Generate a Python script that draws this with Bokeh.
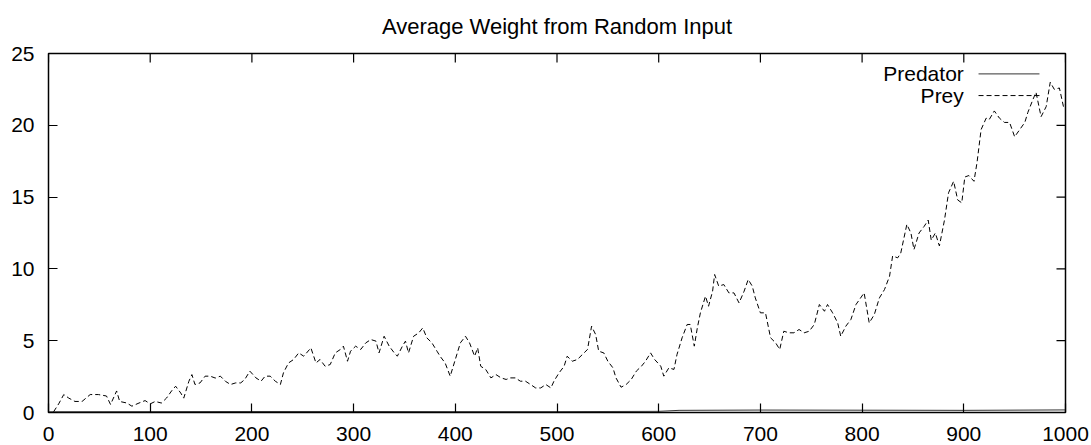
import math
from bokeh.plotting import figure
from bokeh.models import Range1d, FixedTicker, Label
from bokeh.embed import file_html
from bokeh.resources import INLINE

title_text = "Average Weight from Random Input"
series_names = ["Predator", "Prey"]
x_ticks = [0, 100, 200, 300, 400, 500, 600, 700, 800, 900, 1000]
y_ticks = [0, 5, 10, 15, 20, 25]

prey_x = [5, 10, 15, 20, 26, 33, 41, 49, 57, 61, 67, 70, 77, 82, 89, 95, 100, 105, 111, 116,
          121, 125, 130, 133, 138, 141, 144, 149, 154, 159, 164, 169, 174, 179, 184, 189, 193, 198,
          204, 209, 213, 218, 223, 228, 231, 236, 241, 246, 251, 258, 263, 267, 272, 277, 282, 287,
          290, 294, 297, 302, 307, 312, 317, 322, 325, 330, 335, 340, 343, 348, 351, 354, 359, 364,
          368, 372, 377, 382, 385, 390, 395, 400,
          405, 410, 414, 419, 422, 425, 430, 435, 440, 445, 450, 454, 459, 464, 469, 474, 479, 484,
          489, 494, 497, 502, 507, 510, 515, 520, 525, 530, 534, 538, 541, 546, 550, 555, 558, 563,
          568, 573, 578, 583, 587, 592, 596,
          602, 605, 610, 615, 618, 623, 628, 631, 635, 638, 641, 646, 649, 653, 655, 659, 664, 669,
          674, 679, 684, 688, 692, 695, 700, 705, 710, 715, 719, 723, 728, 733, 738, 743, 748, 753,
          758, 763, 766, 771, 776, 779, 784, 789, 794,
          802, 807, 812, 817, 822, 827, 830, 835, 838, 844, 848, 851, 856, 861, 865, 868, 872, 876,
          881, 885, 890, 894, 898, 901, 905, 910, 913, 917, 922, 925, 930, 935, 940, 945, 950, 955,
          960, 963, 968, 971, 976, 981, 985, 989, 994, 998, 1000]
prey_y = [0.05, 0.6, 1.25, 1.0, 0.77, 0.77, 1.25, 1.25, 1.15, 0.56, 1.5, 0.77, 0.66, 0.44, 0.66, 0.83, 0.6, 0.77, 0.66, 1.0,
          1.5, 1.83, 1.36, 1.0, 2.17, 2.64, 1.95, 2.06, 2.53, 2.53, 2.4, 2.53, 2.17, 1.95, 2.06, 2.06, 2.3, 2.88,
          2.41, 2.18, 2.53, 2.53, 2.18, 1.95, 2.76, 3.45, 3.69, 4.15, 3.92, 4.5, 3.45, 3.69, 3.22, 3.34, 4.15, 4.39,
          4.62, 3.57, 4.27, 4.62, 4.39, 4.85, 5.08, 4.97, 4.15, 5.31, 4.62, 4.15, 3.92, 4.62, 4.97, 4.15, 5.31, 5.54,
          5.89, 5.2, 4.85, 4.27, 3.92, 3.45, 2.53, 3.69,
          4.85, 5.31, 4.85, 3.92, 4.5, 3.22, 2.99, 2.41, 2.64, 2.41, 2.3, 2.41, 2.41, 2.18, 2.18, 1.95, 1.71, 1.71,
          1.95, 1.71, 2.18, 2.76, 3.22, 3.92, 3.57, 3.69, 4.04, 4.39, 6.01, 5.43, 4.27, 4.15, 3.57, 3.11, 2.41, 1.76,
          1.95, 2.3, 2.88, 3.22, 3.57, 4.15, 3.69,
          3.23, 2.53, 3.11, 3.0, 4.04, 5.2, 6.13, 6.13, 4.62, 5.9, 6.94, 8.1, 7.4, 8.45, 9.61, 8.8, 8.91, 8.33,
          8.33, 7.63, 8.45, 9.26, 8.8, 7.98, 6.94, 6.94, 5.2, 4.85, 4.39, 5.66, 5.55, 5.55, 5.78, 5.55, 5.66, 6.13,
          7.52, 7.05, 7.52, 6.94, 6.24, 5.31, 6.01, 6.48, 7.52,
          8.33, 6.24, 6.82, 7.98, 8.56, 9.49, 10.9, 10.77, 11.1, 13.1, 12.5, 11.35, 12.5, 12.96, 13.4, 12.0, 12.5, 11.6,
          13.4, 15.3, 16.1, 14.8, 14.6, 16.4, 16.5, 16.1, 17.4, 19.7, 20.5, 20.4, 21.0, 20.5, 20.2, 20.2, 19.2, 19.7,
          20.2, 20.9, 21.8, 22.3, 20.6, 21.3, 23.0, 22.5, 22.6, 21.3, 21.5]

predator_x = [0, 100, 200, 300, 400, 500, 600, 620, 700, 800, 900, 1000]
predator_y = [0.05, 0.06, 0.07, 0.07, 0.06, 0.06, 0.08, 0.15, 0.17, 0.16, 0.15, 0.18]

FONT = "Liberation Sans"
FS = "21px"

p = figure(frame_width=1017, frame_height=359,
           x_range=Range1d(0, 1000), y_range=Range1d(0, 25),
           output_backend="svg", toolbar_location=None,
           min_border_left=48, min_border_right=24, min_border_top=52, min_border_bottom=33,
           title=title_text)
p.title.align = "center"
p.title.vertical_align = "top"
p.title.text_font = FONT
p.title.text_font_size = "22px"
p.title.text_font_style = "normal"
p.title.text_color = "black"
p.title.standoff = 26

p.xgrid.visible = False
p.ygrid.visible = False
p.outline_line_color = "black"
p.outline_line_width = 1.5
p.background_fill_color = "white"
p.border_fill_color = "white"

for ax, ticks in ((p.below[0], x_ticks), (p.left[0], y_ticks)):
    ax.ticker = FixedTicker(ticks=ticks)
    ax.axis_line_color = None
    ax.major_tick_in = 9
    ax.major_tick_out = 0
    ax.major_tick_line_color = "black"
    ax.major_tick_line_width = 1.2
    ax.minor_tick_line_color = None
    ax.major_label_text_font = FONT
    ax.major_label_text_font_size = FS
    ax.major_label_text_color = "#000000"
    ax.major_label_standoff = 14

# mirrored inward ticks on top and right edges (9 px long, screen units)
p.ray(x=x_ticks, y=[y_ticks[-1]] * len(x_ticks), length=9, length_units="screen",
      angle=-math.pi / 2, line_color="black", line_width=1.2)
p.ray(x=[x_ticks[-1]] * len(y_ticks), y=y_ticks, length=9, length_units="screen",
      angle=math.pi, line_color="black", line_width=1.2)

p.line(predator_x, predator_y, line_color="#333333", line_width=1)
p.line(prey_x, prey_y, line_color="black", line_width=1, line_dash="5 3")

# legend (text right-aligned, sample to the right)
p.add_layout(Label(x=900, y=23.58, text=series_names[0], text_align="right", text_baseline="middle",
                   text_font=FONT, text_font_size=FS, text_color="black"))
p.add_layout(Label(x=900, y=22.07, text=series_names[1], text_align="right", text_baseline="middle",
                   text_font=FONT, text_font_size=FS, text_color="black"))
p.segment(x0=[914.5], x1=[974.4], y0=[23.58], y1=[23.58], line_color="#333333", line_width=1)
p.segment(x0=[914.5], x1=[974.4], y0=[22.07], y1=[22.07], line_color="black", line_width=1, line_dash="5 3")

open("out.html", "w").write(file_html(p, INLINE))
